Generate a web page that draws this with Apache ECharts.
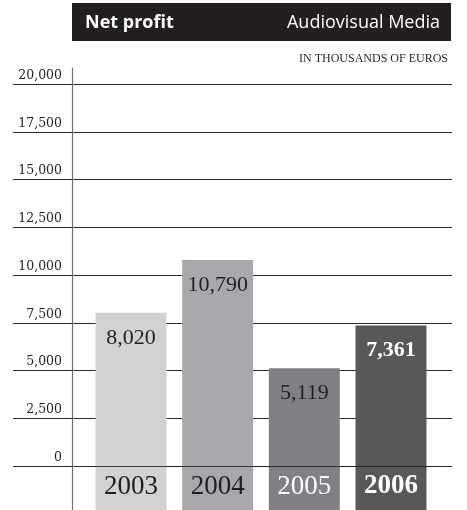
<!DOCTYPE html>
<html>
<head>
<meta charset="utf-8">
<script src="https://cdn.jsdelivr.net/npm/echarts@6/dist/echarts.min.js"></script>
<style>
  html, body { margin: 0; padding: 0; background: #ffffff; }
  #chart { width: 467px; height: 510px; }
</style>
</head>
<body>
<div id="chart"></div>
<script>
// Net profit of the Audiovisual Media segment, in thousands of euros
const years = ['2003', '2004', '2005', '2006'];
const netProfit = [8020, 10790, 5119, 7361];
const yTicks = [0, 2500, 5000, 7500, 10000, 12500, 15000, 17500, 20000];

// Visual styling per year
const barColors = ['#d1d2d4', '#a7a8ab', '#808184', '#58585a'];
const valueLabelStyles = [
  { color: '#231f20', fontWeight: 'normal' },
  { color: '#231f20', fontWeight: 'normal' },
  { color: '#231f20', fontWeight: 'normal' },
  { color: '#ffffff', fontWeight: 'bold' }
];
const yearLabelStyles = [
  { color: '#231f20', fontWeight: 'normal' },
  { color: '#231f20', fontWeight: 'normal' },
  { color: '#ffffff', fontWeight: 'normal' },
  { color: '#ffffff', fontWeight: 'bold' }
];

// The bars run on below the zero line to carry the year labels
const STRIP_DEPTH = 2500;
const Y_MIN = -STRIP_DEPTH;
const Y_MAX = yTicks[yTicks.length - 1];
const Y_STEP = yTicks[1] - yTicks[0];

const chart = echarts.init(document.getElementById('chart'), null, { renderer: 'canvas' });

const fmt = v => v.toLocaleString('en-US');
const serif = '"Liberation Serif", serif';

chart.setOption({
  animation: false,
  backgroundColor: '#ffffff',
  graphic: [
    {
      type: 'rect',
      left: 72, top: 3,
      shape: { width: 379, height: 38 },
      style: { fill: '#231f20' }
    },
    {
      type: 'text',
      left: 85, top: 14,
      style: {
        text: 'Net profit',
        fill: '#ffffff',
        font: 'bold 18px "Open Sans", sans-serif'
      }
    },
    {
      type: 'text',
      right: 27, top: 14,
      style: {
        text: 'Audiovisual Media',
        fill: '#ffffff',
        font: '18px "Open Sans", sans-serif'
      }
    },
    {
      type: 'text',
      right: 19, top: 53,
      style: {
        text: 'IN THOUSANDS OF EUROS',
        fill: '#231f20',
        font: '12px ' + serif
      }
    }
  ],
  grid: [
    // gridlines and value scale
    { left: 13, right: 15, top: 84, bottom: -3.75, outerBoundsMode: 'none', containLabel: false },
    // bars
    { left: 87.67, right: 32.67, top: 84, bottom: -3.75, outerBoundsMode: 'none', containLabel: false },
    // vertical axis rule
    { left: 72, width: 1, top: 68, bottom: 0, outerBoundsMode: 'none', containLabel: false }
  ],
  xAxis: [
    { gridIndex: 0, type: 'value', show: false },
    { gridIndex: 1, type: 'category', data: years, show: false },
    { gridIndex: 2, type: 'value', show: false }
  ],
  yAxis: [
    {
      gridIndex: 0,
      type: 'value',
      min: Y_MIN,
      max: Y_MAX,
      interval: Y_STEP,
      offset: -59,
      axisLine: { show: false },
      axisTick: { show: false },
      splitLine: { show: true, lineStyle: { color: '#2b2b2b', width: 1 } },
      axisLabel: {
        margin: 10,
        verticalAlign: 'bottom',
        lineHeight: 13,
        padding: [0, 0, 2, 0],
        color: '#231f20',
        fontSize: 12.5,
        fontFamily: '"DejaVu Serif", serif',
        formatter: v => (yTicks.indexOf(v) >= 0 ? fmt(v) : '')
      }
    },
    {
      gridIndex: 1,
      type: 'value',
      min: Y_MIN,
      max: Y_MAX,
      interval: Y_STEP,
      show: false
    },
    {
      gridIndex: 2,
      type: 'value',
      min: 0,
      max: 1,
      axisLine: { show: true, lineStyle: { color: '#6d6e71', width: 1.2 } },
      axisTick: { show: false },
      axisLabel: { show: false },
      splitLine: { show: false }
    }
  ],
  series: [
    {
      name: 'Net profit',
      type: 'bar',
      xAxisIndex: 1,
      yAxisIndex: 1,
      stack: 'year',
      barWidth: 71,
      data: netProfit.map((v, i) => ({
        value: v,
        itemStyle: { color: barColors[i] },
        label: valueLabelStyles[i]
      })),
      label: {
        show: true,
        position: 'insideTop',
        distance: 14,
        fontSize: 22,
        lineHeight: 22,
        fontFamily: serif,
        formatter: p => fmt(p.value)
      },
      // zero line drawn over the bars
      markLine: {
        silent: true,
        symbol: 'none',
        label: { show: false },
        lineStyle: { color: '#231f20', width: 1, type: 'solid', opacity: 0.85 },
        data: [{ yAxis: 0 }]
      }
    },
    {
      name: 'Year',
      type: 'bar',
      xAxisIndex: 1,
      yAxisIndex: 1,
      stack: 'year',
      barWidth: 71,
      silent: true,
      data: years.map((y, i) => ({
        value: -STRIP_DEPTH,
        itemStyle: { color: barColors[i] },
        label: yearLabelStyles[i]
      })),
      label: {
        show: true,
        position: 'insideTop',
        distance: 7,
        fontSize: 27,
        lineHeight: 27,
        fontFamily: serif,
        formatter: p => p.name
      }
    }
  ]
});
</script>
</body>
</html>
